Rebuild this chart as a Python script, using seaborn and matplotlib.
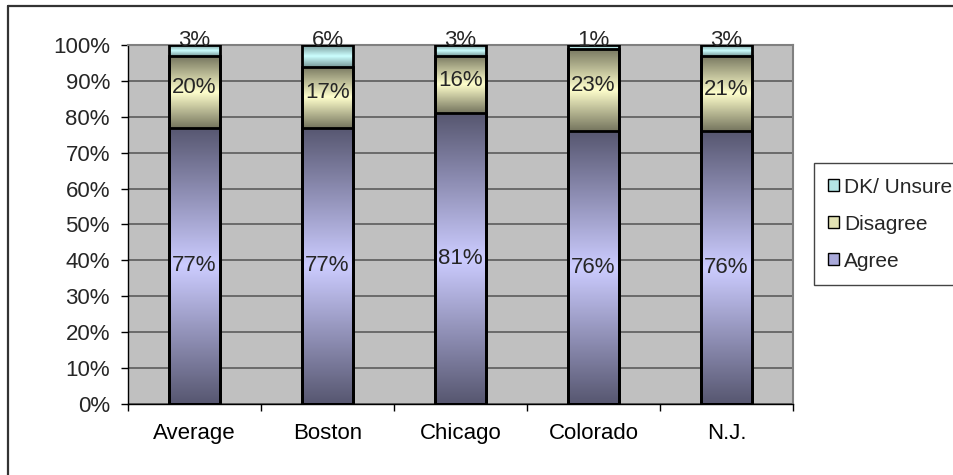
import numpy as np
import pandas as pd
import matplotlib
matplotlib.use("Agg")
import matplotlib.pyplot as plt
import seaborn as sns
from matplotlib.patches import Patch
from matplotlib.lines import Line2D

# ---- data ----
categories = ["Average", "Boston", "Chicago", "Colorado", "N.J."]
agree = [77, 77, 81, 76, 76]
disagree = [20, 17, 16, 23, 21]
dk_unsure = [3, 6, 3, 1, 3]
series_names = ["Agree", "Disagree", "DK/ Unsure"]
y_ticks = list(range(0, 101, 10))

# ---- style ----
sns.set_style("ticks")
plt.rcParams['font.family'] = ['Liberation Sans', 'DejaVu Sans']
FS = 16

light = {"Agree": (0.80, 0.80, 1.00), "Disagree": (1.00, 1.00, 0.80), "DK/ Unsure": (0.80, 1.00, 1.00)}
dark = {"Agree": (0.34, 0.34, 0.44), "Disagree": (0.46, 0.46, 0.37), "DK/ Unsure": (0.47, 0.60, 0.60)}
legend_col = {"Agree": "#A9A9DA", "Disagree": "#E2E2B4", "DK/ Unsure": "#B4E6E6"}

fig = plt.figure(figsize=(9.54, 4.75), dpi=100)
ax = fig.add_axes([0.1342, 0.1495, 0.697, 0.7558])
ax.set_facecolor('#C0C0C0')

df = pd.DataFrame({"cat": categories, "agree": agree, "disagree": disagree, "dk": dk_unsure})
df["c1"] = df["agree"]
df["c2"] = df["agree"] + df["disagree"]
df["c3"] = df["c2"] + df["dk"]

for col in ["c3", "c2", "c1"]:
    sns.barplot(data=df, x="cat", y=col, order=categories, width=0.39, color="white",
                saturation=1, edgecolor="black", linewidth=2, errorbar=None, ax=ax, zorder=3)

# segment gradients
patches = list(ax.patches)
for p in patches:
    p.set_facecolor("none")
n = len(categories)
N = 200
t = np.linspace(0, 1, N)
v = 1 - np.abs(2 * t - 1)
for i in range(n):
    p = patches[i]
    x0, w = p.get_x(), p.get_width()
    bounds = [(0, df["c1"][i], "Agree"), (df["c1"][i], df["c2"][i], "Disagree"), (df["c2"][i], df["c3"][i], "DK/ Unsure")]
    for lo, hi, name in bounds:
        if hi <= lo:
            continue
        d = np.array(dark[name]); l = np.array(light[name])
        arr = d[None, :] + (l - d)[None, :] * v[:, None]
        arr = arr[:, None, :]
        ax.imshow(arr, extent=[x0, x0 + w, lo, hi], origin='lower', aspect='auto',
                  interpolation='bilinear', zorder=2.5)

# labels
for i in range(n):
    ax.text(i, agree[i] / 2, f"{agree[i]}%", ha='center', va='center', fontsize=FS, zorder=5)
    ax.text(i, agree[i] + disagree[i] / 2 + 1.2, f"{disagree[i]}%", ha='center', va='center', fontsize=FS, zorder=5)
    ax.text(i, 99.6, f"{dk_unsure[i]}%", ha='center', va='baseline', fontsize=FS, zorder=5)

ax.set_xlim(-0.5, n - 0.5)
ax.set_ylim(0, 100)
ax.set_xlabel("")
ax.set_ylabel("")
ax.set_yticks(y_ticks)
ax.set_yticklabels([f"{v}%" for v in y_ticks], fontsize=FS)
ax.set_xticks(range(n))
ax.set_xticklabels(categories, fontsize=FS)
ax.set_xticks(np.arange(-0.5, n, 1), minor=True)
ax.tick_params(axis='x', which='major', length=0, pad=14, colors='black')
ax.tick_params(axis='x', which='minor', length=5, width=1, color='black', direction='out')
ax.tick_params(axis='y', which='major', length=5, width=1, color='black', direction='out', pad=8, left=True)
ax.yaxis.grid(True, color='#6a6a6a', lw=1.4)
ax.set_axisbelow(True)
for s in ["left", "bottom"]:
    ax.spines[s].set_color('black'); ax.spines[s].set_linewidth(1)
for s in ["top", "right"]:
    ax.spines[s].set_visible(True)
    ax.spines[s].set_color('#808080'); ax.spines[s].set_linewidth(1.5)

handles = [Patch(facecolor=legend_col[nm], edgecolor='black', linewidth=1) for nm in series_names[::-1]]
leg = fig.legend(handles, series_names[::-1], loc='upper left', bbox_to_anchor=(0.853, 0.657),
                 frameon=True, fancybox=False, edgecolor='#444444', framealpha=1, fontsize=15,
                 handlelength=0.5, handleheight=0.5, handletextpad=0.25, labelspacing=0.87,
                 borderpad=0.7, borderaxespad=0)
leg.get_frame().set_linewidth(1)

# outer chart border (top and left visible)
fig.add_artist(Line2D([8 / 954, 1.0], [1 - 5.5 / 475, 1 - 5.5 / 475], transform=fig.transFigure, color='#333333', lw=1.6))
fig.add_artist(Line2D([8 / 954, 8 / 954], [1 - 5.5 / 475, 0], transform=fig.transFigure, color='#333333', lw=1.6))

fig.savefig("out.png", dpi=100)
